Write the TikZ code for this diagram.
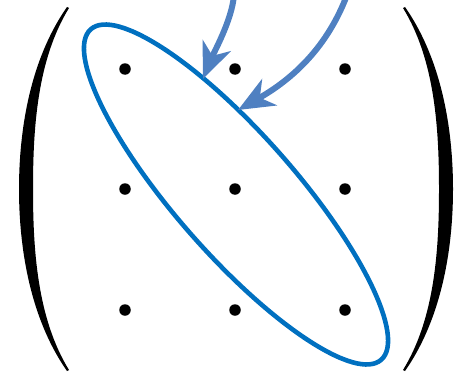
\documentclass[tikz,border=0pt]{standalone}
\usepackage{tikz}
\usetikzlibrary{arrows.meta}
\definecolor{ringblue}{RGB}{0,112,192}
\definecolor{arrowblue}{RGB}{79,128,193}

\begin{document}
\begin{tikzpicture}[x=1pt,y=1pt,>=Stealth,
  matdot/.style={circle,fill=black,inner sep=0pt,minimum size=11.5pt},
  ring/.style={draw=ringblue,line width=4.6pt},
  pointer/.style={draw=arrowblue,line width=6pt,
    -{Stealth[length=36pt,width=30pt,inset=11pt]}}]
\useasboundingbox (0,0) rectangle (462,373);
% ---- parentheses ----
\fill[black] (67,366) .. controls (30,313) and (19,243) .. (19,184)
  .. controls (19,125) and (30,55) .. (67,2)
  -- (69,3) .. controls (37,55) and (33,124) .. (33,184)
  .. controls (33,244) and (37,313) .. (69,365) -- cycle;
\fill[black] (405,366) .. controls (442,313) and (453,243) .. (453,184)
  .. controls (453,125) and (442,55) .. (405,2)
  -- (403,3) .. controls (435,55) and (439,124) .. (439,184)
  .. controls (439,244) and (435,313) .. (403,365) -- cycle;
% ---- matrix dots ----
\node[matdot] (d11) at (125,304) {};
\node[matdot] (d12) at (235,304) {};
\node[matdot] (d13) at (345,304) {};
\node[matdot] (d21) at (125,184) {};
\node[matdot] (d22) at (235,184) {};
\node[matdot] (d23) at (345,184) {};
\node[matdot] (d31) at (125,63) {};
\node[matdot] (d32) at (235,63) {};
\node[matdot] (d33) at (345,63) {};
% ---- diagonal ring ----
\draw[ring,rotate around={-48.7:(236,178.5)}] (236,178.5) ellipse (220 and 60);
% ---- arrows ----
\coordinate (fromA) at (234,378);
\coordinate (toA) at (203,294);
\coordinate (fromB) at (347,378);
\coordinate (toB) at (238,263);
\draw[pointer] (fromA) .. controls (232,353) and (214,321) .. (toA);
\draw[pointer] (fromB) .. controls (330,333) and (300,298) .. (toB);
\end{tikzpicture}
\end{document}
